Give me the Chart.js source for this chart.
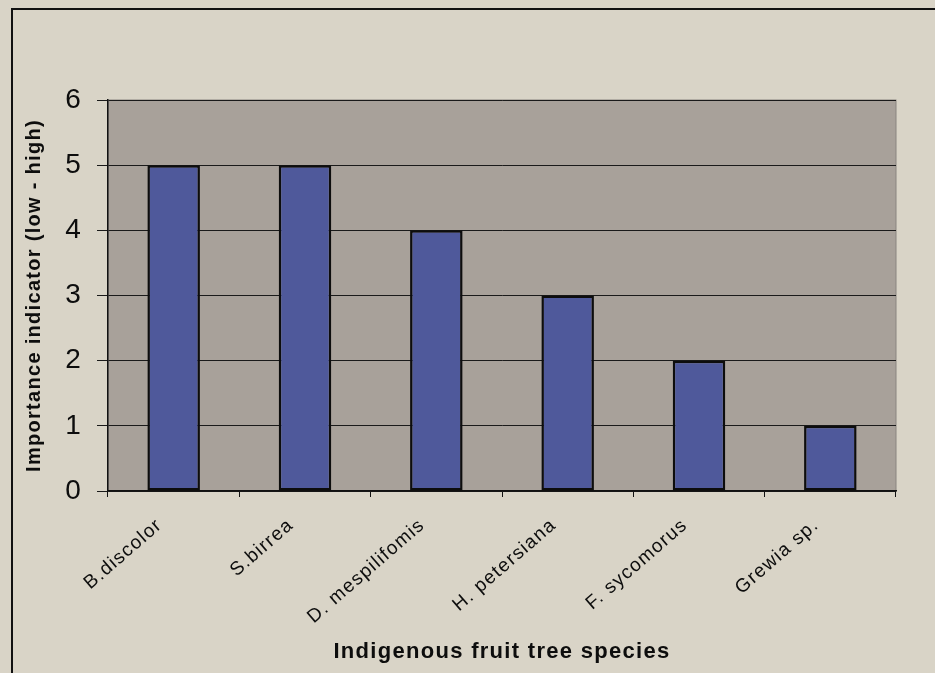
<!DOCTYPE html>
<html>
<head>
<meta charset="utf-8">
<script src="https://cdn.jsdelivr.net/npm/chart.js@4/dist/chart.umd.min.js"></script>
<style>
    html, body { margin: 0; padding: 0; background: #d9d4c7; }
    #wrap { width: 935px; height: 673px; }
</style>
</head>
<body>
<div id="wrap"><canvas id="speciesChart" width="935" height="673"></canvas></div>
<script>
// --- DATA ---
const species = ['B.discolor', 'S.birrea', 'D. mespilifomis', 'H. petersiana', 'F. sycomorus', 'Grewia sp.'];
const importance = [5, 5, 4, 3, 2, 1];
const yTicks = [0, 1, 2, 3, 4, 5, 6];

const xTitle = 'Indigenous fruit tree species';
const yTitle = 'Importance indicator (low - high)';

// --- BACKGROUND / FRAME PLUGIN ---
const framePlugin = {
    id: 'frame',
    beforeDraw(chart) {
        const { ctx, chartArea: a, width, height } = chart;
        ctx.save();
        ctx.fillStyle = '#d9d4c7';
        ctx.fillRect(0, 0, width, height);

        // outer frame (top + left only, picture is cropped)
        ctx.strokeStyle = '#111';
        ctx.lineWidth = 2;
        ctx.beginPath();
        ctx.moveTo(12, height);
        ctx.lineTo(12, 9);
        ctx.lineTo(width, 9);
        ctx.stroke();

        // plot area
        ctx.fillStyle = '#a8a19a';
        ctx.fillRect(a.left, a.top, a.right - a.left, a.bottom - a.top);
        ctx.strokeStyle = '#8a8480';
        ctx.lineWidth = 1;
        ctx.strokeRect(a.left, a.top, a.right - a.left, a.bottom - a.top);
        ctx.restore();

        // looser spacing like the scanned original
        ctx.letterSpacing = '1.3px';
    }
};

new Chart(document.getElementById('speciesChart'), {
    type: 'bar',
    data: {
        labels: species,
        datasets: [{
            data: importance,
            backgroundColor: '#4f599b',
            borderColor: '#0d0d0d',
            borderWidth: 2.5,
            borderSkipped: false,
            barPercentage: 0.4,
            categoryPercentage: 1
        }]
    },
    options: {
        responsive: false,
        animation: false,
        layout: { padding: { left: 0, top: 100, right: 39, bottom: 0 } },
        plugins: { legend: { display: false }, tooltip: { enabled: false } },
        scales: {
            x: {
                offset: true,
                afterFit: (s) => { s.height = 182; },
                grid: { drawOnChartArea: false, drawTicks: true, tickLength: 6, color: '#111', lineWidth: 1 },
                border: { color: '#111', width: 1.5 },
                ticks: {
                    color: '#0d0d0d',
                    font: { family: 'Liberation Sans, Arial, sans-serif', size: 19 },
                    minRotation: 41,
                    maxRotation: 41,
                    padding: 17,
                    labelOffset: -14,
                    autoSkip: false
                },
                title: {
                    display: true,
                    text: xTitle,
                    color: '#0d0d0d',
                    font: { family: 'Liberation Sans, Arial, sans-serif', size: 22, weight: 'bold' },
                    padding: { top: 0, bottom: 8 }
                }
            },
            y: {
                min: 0,
                max: 6,
                afterFit: (s) => { s.width = 108; },
                afterBuildTicks: (s) => { s.ticks = yTicks.map(v => ({ value: v })); },
                grid: { color: '#1a1a1a', lineWidth: 1, tickLength: 11, drawTicks: true },
                border: { color: '#111', width: 1.5 },
                ticks: {
                    color: '#0d0d0d',
                    font: { family: 'Liberation Sans, Arial, sans-serif', size: 28 },
                    padding: 15
                },
                title: {
                    display: true,
                    text: yTitle,
                    color: '#0d0d0d',
                    font: { family: 'Liberation Sans, Arial, sans-serif', size: 20, weight: 'bold' },
                    padding: { top: 22, bottom: 0 }
                }
            }
        }
    },
    plugins: [framePlugin]
});
</script>
</body>
</html>
